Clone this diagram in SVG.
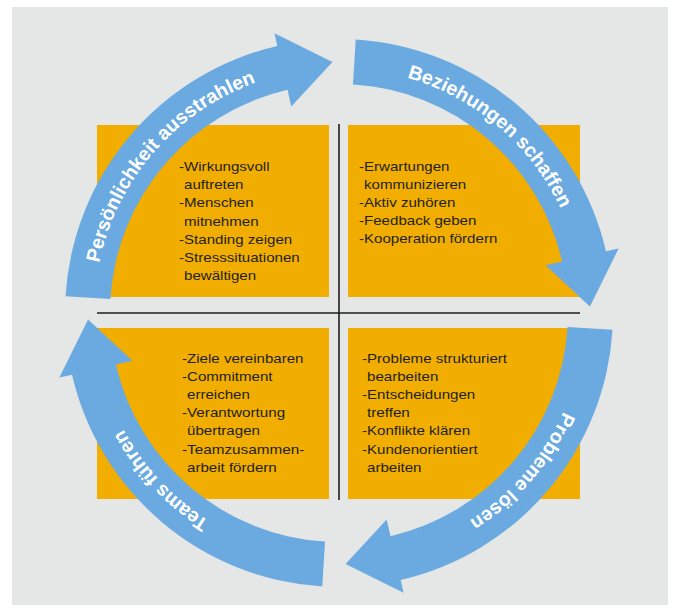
<svg xmlns="http://www.w3.org/2000/svg" xmlns:xlink="http://www.w3.org/1999/xlink" width="675" height="609" viewBox="0 0 675 609">
<style>
.box{fill:#f2ae00}
.arrow{fill:#6aaae0}
.atxt{font-family:"Liberation Sans",Arial,sans-serif;font-weight:bold;font-size:19.6px;fill:#ffffff;text-anchor:middle}
.btxt{font-family:"Liberation Sans",Arial,sans-serif;font-size:13px;fill:#231f1a}
.div{stroke:#1e1e1e;stroke-width:1.6;fill:none}
</style>
<defs>
<path id="arrowShape" d="M273.49 16.73 A274 274 0 0 1 61.64 266.98 L64.56 279.64 L6.57 250.91 L47.69 206.57 L51.51 223.13 A229 229 0 0 0 228.57 13.98 Z"/>
<path id="tp" d="M236.65 -63.41 A245 245 0 0 1 -21.35 244.07"/>
</defs>
<rect x="0" y="0" width="675" height="609" fill="#ffffff"/>
<rect x="12" y="7" width="656" height="598" fill="#e5e6e6"/>

<g id="box-tl">
<rect class="box" x="97" y="125" width="232" height="172"/>
<g class="btxt">
<text x="179" y="171" textLength="90.5" lengthAdjust="spacingAndGlyphs">-Wirkungsvoll</text>
<text x="184" y="189.2" textLength="59.5" lengthAdjust="spacingAndGlyphs">auftreten</text>
<text x="179" y="207.4" textLength="74.6" lengthAdjust="spacingAndGlyphs">-Menschen</text>
<text x="184" y="225.6" textLength="74.6" lengthAdjust="spacingAndGlyphs">mitnehmen</text>
<text x="179" y="243.8" textLength="113.2" lengthAdjust="spacingAndGlyphs">-Standing zeigen</text>
<text x="179" y="262" textLength="120.7" lengthAdjust="spacingAndGlyphs">-Stresssituationen</text>
<text x="184" y="280.2" textLength="72.1" lengthAdjust="spacingAndGlyphs">bewältigen</text>
</g>
</g>

<g id="box-tr">
<rect class="box" x="348" y="125" width="232" height="172"/>
<g class="btxt">
<text x="359" y="171" textLength="90.5" lengthAdjust="spacingAndGlyphs">-Erwartungen</text>
<text x="364" y="189" textLength="102.2" lengthAdjust="spacingAndGlyphs">kommunizieren</text>
<text x="359" y="207" textLength="96.4" lengthAdjust="spacingAndGlyphs">-Aktiv zuhören</text>
<text x="359" y="225" textLength="117.4" lengthAdjust="spacingAndGlyphs">-Feedback geben</text>
<text x="359" y="243" textLength="138.3" lengthAdjust="spacingAndGlyphs">-Kooperation fördern</text>
</g>
</g>

<g id="box-bl">
<rect class="box" x="97" y="328" width="232" height="171"/>
<g class="btxt">
<text x="182" y="363" textLength="121.5" lengthAdjust="spacingAndGlyphs">-Ziele vereinbaren</text>
<text x="182" y="381.1" textLength="90.5" lengthAdjust="spacingAndGlyphs">-Commitment</text>
<text x="187" y="399.2" textLength="62.9" lengthAdjust="spacingAndGlyphs">erreichen</text>
<text x="182" y="417.3" textLength="103.1" lengthAdjust="spacingAndGlyphs">-Verantwortung</text>
<text x="187" y="435.4" textLength="72.9" lengthAdjust="spacingAndGlyphs">übertragen</text>
<text x="182" y="453.5" textLength="122.3" lengthAdjust="spacingAndGlyphs">-Teamzusammen-</text>
<text x="187" y="471.6" textLength="89.7" lengthAdjust="spacingAndGlyphs">arbeit fördern</text>
</g>
</g>

<g id="box-br">
<rect class="box" x="348" y="328" width="232" height="171"/>
<g class="btxt">
<text x="362" y="363" textLength="145" lengthAdjust="spacingAndGlyphs">-Probleme strukturiert</text>
<text x="367" y="381.1" textLength="71.3" lengthAdjust="spacingAndGlyphs">bearbeiten</text>
<text x="362" y="399.2" textLength="113.2" lengthAdjust="spacingAndGlyphs">-Entscheidungen</text>
<text x="367" y="417.3" textLength="42.8" lengthAdjust="spacingAndGlyphs">treffen</text>
<text x="362" y="435.4" textLength="108.1" lengthAdjust="spacingAndGlyphs">-Konflikte klären</text>
<text x="362" y="453.5" textLength="115.7" lengthAdjust="spacingAndGlyphs">-Kundenorientiert</text>
<text x="367" y="471.6" textLength="54.5" lengthAdjust="spacingAndGlyphs">arbeiten</text>
</g>
</g>

<g id="dividers">
<line class="div" x1="339" y1="124" x2="339" y2="500"/>
<line class="div" x1="97" y1="313" x2="580" y2="313"/>
</g>

<g id="connectors">
<g id="arrow-persoenlichkeit" transform="translate(339 313) rotate(180)">
<use href="#arrowShape" xlink:href="#arrowShape" class="arrow"/>
<text class="atxt"><textPath href="#tp" xlink:href="#tp" startOffset="50.9%">Persönlichkeit ausstrahlen</textPath></text>
</g>
<g id="arrow-beziehungen" transform="translate(339 313) rotate(270)">
<use href="#arrowShape" xlink:href="#arrowShape" class="arrow"/>
<text class="atxt"><textPath href="#tp" xlink:href="#tp" startOffset="50.4%">Beziehungen schaffen</textPath></text>
</g>
<g id="arrow-probleme" transform="translate(339 313)">
<use href="#arrowShape" xlink:href="#arrowShape" class="arrow"/>
<text class="atxt"><textPath href="#tp" xlink:href="#tp" startOffset="50.7%">Probleme lösen</textPath></text>
</g>
<g id="arrow-teams" transform="translate(339 313) rotate(90)">
<use href="#arrowShape" xlink:href="#arrowShape" class="arrow"/>
<text class="atxt"><textPath href="#tp" xlink:href="#tp" startOffset="56.2%">Teams führen</textPath></text>
</g>
</g>
</svg>
